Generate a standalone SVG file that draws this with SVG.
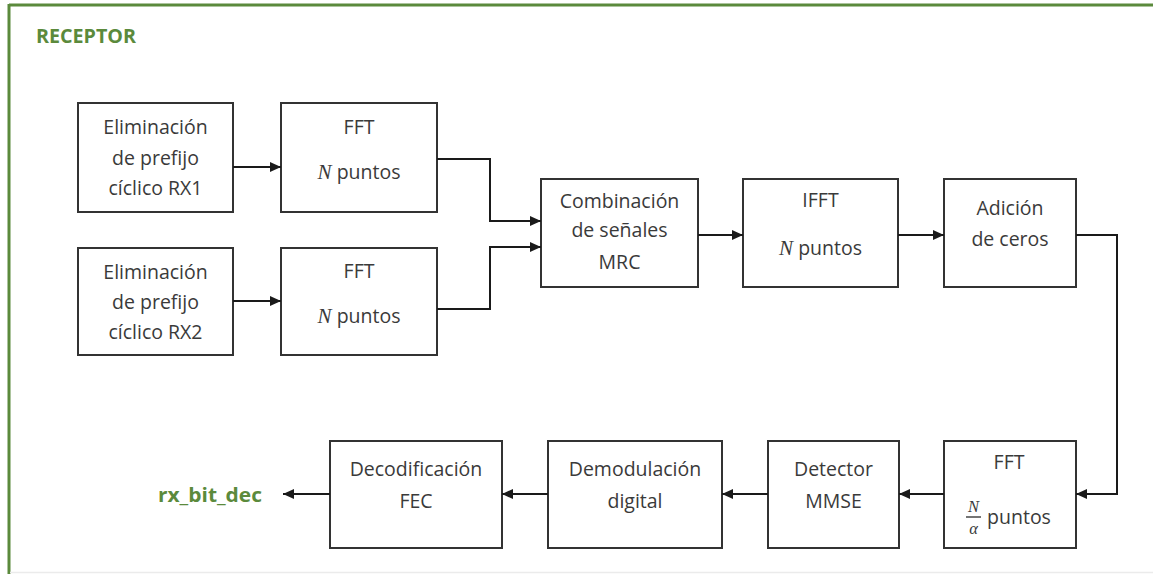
<svg xmlns="http://www.w3.org/2000/svg" width="1153" height="574" viewBox="0 0 1153 574">
  <defs>
    <marker id="arrow" markerUnits="userSpaceOnUse" markerWidth="12" markerHeight="10" refX="11" refY="5" orient="auto">
      <path d="M0,0 L11,5 L0,10 Z" fill="#1a1a1a"/>
    </marker>
  </defs>
  <style>
    .box { fill: #ffffff; stroke: #333333; stroke-width: 2; }
    .lbl { font-family: "Open Sans", "Liberation Sans", sans-serif; font-size: 19.5px; fill: #3a3a3a; text-anchor: middle; }
    .math { font-family: "Liberation Serif", "DejaVu Serif", serif; font-style: italic; }
    .green { font-family: "Open Sans", "Liberation Sans", sans-serif; font-weight: bold; fill: #5b8a3c; }
    .wire { fill: none; stroke: #1a1a1a; stroke-width: 2; marker-end: url(#arrow); }
  </style>

  <rect width="1153" height="574" fill="#ffffff"/>
  <!-- frame -->
  <line x1="9" y1="5" x2="1153" y2="5" stroke="#5b8a3c" stroke-width="3"/>
  <line x1="9" y1="4" x2="9" y2="574" stroke="#5b8a3c" stroke-width="3"/>
  <line x1="10" y1="572.5" x2="1153" y2="572.5" stroke="#ebebeb" stroke-width="1.5"/>
  <text class="green" x="36" y="43" font-size="19.5" textLength="100" lengthAdjust="spacingAndGlyphs">RECEPTOR</text>

  <g id="cp1">
    <rect class="box" x="78" y="103" width="155" height="109"/>
    <text class="lbl" x="155.5" y="134">Eliminación</text>
    <text class="lbl" x="155.5" y="165">de prefijo</text>
    <text class="lbl" x="155.5" y="195">cíclico RX1</text>
  </g>
  <g id="cp2">
    <rect class="box" x="78" y="248" width="155" height="107"/>
    <text class="lbl" x="155.5" y="279">Eliminación</text>
    <text class="lbl" x="155.5" y="309">de prefijo</text>
    <text class="lbl" x="155.5" y="339">cíclico RX2</text>
  </g>
  <g id="fft1">
    <rect class="box" x="281" y="103" width="156" height="109"/>
    <text class="lbl" x="359" y="134">FFT</text>
    <text class="lbl" x="359" y="179"><tspan class="math" font-size="21">N</tspan> puntos</text>
  </g>
  <g id="fft2">
    <rect class="box" x="281" y="248" width="156" height="107"/>
    <text class="lbl" x="359" y="278">FFT</text>
    <text class="lbl" x="359" y="323"><tspan class="math" font-size="21">N</tspan> puntos</text>
  </g>
  <g id="mrc">
    <rect class="box" x="541" y="179" width="157" height="108"/>
    <text class="lbl" x="619.5" y="208">Combinación</text>
    <text class="lbl" x="619.5" y="237">de señales</text>
    <text class="lbl" x="619.5" y="269">MRC</text>
  </g>
  <g id="ifft">
    <rect class="box" x="743" y="179" width="155" height="108"/>
    <text class="lbl" x="820.5" y="207">IFFT</text>
    <text class="lbl" x="820.5" y="255"><tspan class="math" font-size="21">N</tspan> puntos</text>
  </g>
  <g id="zeros">
    <rect class="box" x="944" y="179" width="132" height="108"/>
    <text class="lbl" x="1010" y="215">Adición</text>
    <text class="lbl" x="1010" y="246">de ceros</text>
  </g>
  <g id="fft3">
    <rect class="box" x="944" y="441" width="132" height="107"/>
    <text class="lbl" x="1009" y="469">FFT</text>
    <text class="math" x="973.5" y="512" font-size="16.5" text-anchor="middle" fill="#3a3a3a">N</text>
    <line x1="966" y1="517" x2="981" y2="517" stroke="#3a3a3a" stroke-width="1.4"/>
    <text class="math" x="973.5" y="534" font-size="16.5" text-anchor="middle" fill="#3a3a3a">α</text>
    <text class="lbl" x="1019" y="524">puntos</text>
  </g>
  <g id="mmse">
    <rect class="box" x="768" y="441" width="131" height="107"/>
    <text class="lbl" x="833.5" y="476">Detector</text>
    <text class="lbl" x="833.5" y="508">MMSE</text>
  </g>
  <g id="demod">
    <rect class="box" x="548" y="441" width="174" height="107"/>
    <text class="lbl" x="635" y="476">Demodulación</text>
    <text class="lbl" x="635" y="508">digital</text>
  </g>
  <g id="fec">
    <rect class="box" x="330" y="441" width="172" height="107"/>
    <text class="lbl" x="416" y="476">Decodificación</text>
    <text class="lbl" x="416" y="508">FEC</text>
  </g>
  <g id="out">
    <text class="green" x="158" y="502" font-size="19.5" textLength="104" lengthAdjust="spacingAndGlyphs">rx_bit_dec</text>
  </g>

  <g id="connectors">
    <path class="wire" d="M233,167 H281"/>
    <path class="wire" d="M233,301 H281"/>
    <path class="wire" d="M437,159 H490 V221 H541"/>
    <path class="wire" d="M437,309 H490 V247 H541"/>
    <path class="wire" d="M698,235 H743"/>
    <path class="wire" d="M898,235 H944"/>
    <path class="wire" d="M1076,235 H1117 V494 H1076"/>
    <path class="wire" d="M944,494 H899"/>
    <path class="wire" d="M768,494 H722"/>
    <path class="wire" d="M548,494 H502"/>
    <path class="wire" d="M330,494 H283"/>
  </g>
</svg>
